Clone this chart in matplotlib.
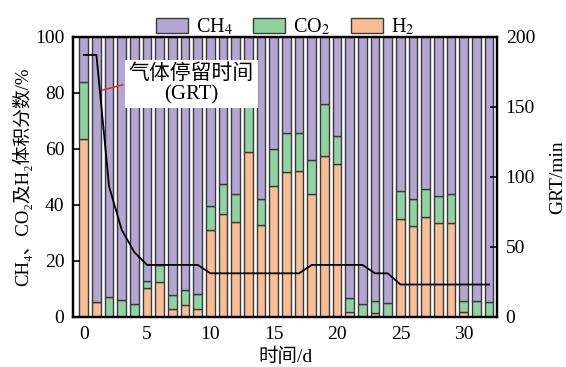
import matplotlib
matplotlib.use('Agg')
import matplotlib.pyplot as plt
import numpy as np

plt.rcParams['font.family'] = ['Liberation Serif', 'DejaVu Serif', 'Noto Sans CJK SC']
plt.rcParams['mathtext.fontset'] = 'stix'

days = list(range(33))
# gas composition, volume %
h2 = [63.3, 5.3, 0, 0, 0, 10.4, 12.3, 2.9, 4.2, 2.6, 31.0, 36.6, 33.7, 58.9, 32.9, 46.8, 51.8,
      51.9, 43.9, 57.5, 54.6, 1.6, 0, 1.2, 0, 34.8, 32.4, 35.5, 33.6, 33.6, 1.7, 0, 0]
co2 = [20.5, 0, 7.1, 6.1, 4.5, 2.3, 6.3, 5.0, 5.2, 5.5, 8.5, 10.7, 10.1, 17.1, 9.1, 13.1, 13.9,
       13.8, 12.2, 18.5, 9.9, 5.0, 4.4, 4.5, 4.9, 10.1, 9.7, 10.1, 9.5, 10.1, 4.0, 5.5, 5.3]
ch4 = [16.2, 94.7, 92.9, 93.9, 95.5, 87.3, 81.4, 92.1, 90.6, 91.9, 60.5, 52.7, 56.2, 24.0, 58.0,
       40.1, 34.3, 34.3, 43.9, 24.0, 35.5, 93.4, 95.6, 94.3, 95.1, 55.1, 57.9, 54.4, 56.9, 56.3,
       94.3, 94.5, 94.7]
# gas retention time, min
grt = [187, 187, 93, 62, 46, 37, 37, 37, 37, 37, 31, 31, 31, 31, 31, 31, 31, 31, 37, 37, 37, 37,
       37, 31, 31, 23, 23, 23, 23, 23, 23, 23, 23]

c_ch4 = '#B3A6D3'
c_co2 = '#8FD3A0'
c_h2 = '#F8BD92'
edge = '#3a3a3a'

fig = plt.figure(figsize=(5.66, 3.67), dpi=100)
ax = fig.add_axes([0.1285, 0.137, 0.7502, 0.763])

x = np.array(days)
h2a = np.array(h2)
co2a = np.array(co2)
ch4a = np.array(ch4)
w = 0.68
ax.bar(x, h2a, w, color=c_h2, edgecolor=edge, linewidth=1.0, label='H$_2$')
ax.bar(x, co2a, w, bottom=h2a, color=c_co2, edgecolor=edge, linewidth=1.0, label='CO$_2$')
ax.bar(x, ch4a, w, bottom=h2a + co2a, color=c_ch4, edgecolor=edge, linewidth=1.0, label='CH$_4$')

ax.set_xlim(-0.87, 32.65)
ax.set_ylim(0, 100)
ax.set_xticks([0, 5, 10, 15, 20, 25, 30])
ax.set_yticks([0, 20, 40, 60, 80, 100])
ax.tick_params(axis='y', direction='in', length=5, width=1.2, labelsize=14, pad=6)
ax.tick_params(axis='x', length=0, labelsize=14, pad=7)
ax.set_xlabel('时间/d', fontsize=14, labelpad=3, fontweight='light')
ax.set_ylabel('CH₄、CO₂及H₂体积分数/%', fontsize=13.5, labelpad=2, fontweight='light')

ax2 = ax.twinx()
ax2.plot(x, grt, color='black', linewidth=1.3)
ax2.set_ylim(0, 200)
ax2.set_yticks([0, 50, 100, 150, 200])
ax2.tick_params(axis='y', direction='in', length=5, width=1.2, labelsize=14, pad=6)
ax2.set_ylabel('GRT/min', fontsize=14, labelpad=10)

for a in (ax, ax2):
    for s in a.spines.values():
        s.set_linewidth(1.6)

ax2.text(8.5, 166.2, '气体停留时间\n(GRT)', ha='center', va='center', fontsize=15,
         linespacing=1.1, fontweight='light',
         bbox=dict(facecolor='white', edgecolor='none', pad=3), zorder=5)
ax2.annotate('', xy=(1.29, 161.4), xytext=(3.3, 166.2),
             arrowprops=dict(arrowstyle='-', color='#E0303A', lw=1.2), zorder=6)

handles, labels = ax.get_legend_handles_labels()
ax.legend(handles[::-1], labels[::-1], loc='lower center', bbox_to_anchor=(0.5, 0.99),
          ncol=3, frameon=False, fontsize=14.5, handlelength=1.6, handleheight=0.8,
          columnspacing=1.0, handletextpad=0.4, borderaxespad=0.0, borderpad=0.1)

fig.savefig('out.png', dpi=100)
